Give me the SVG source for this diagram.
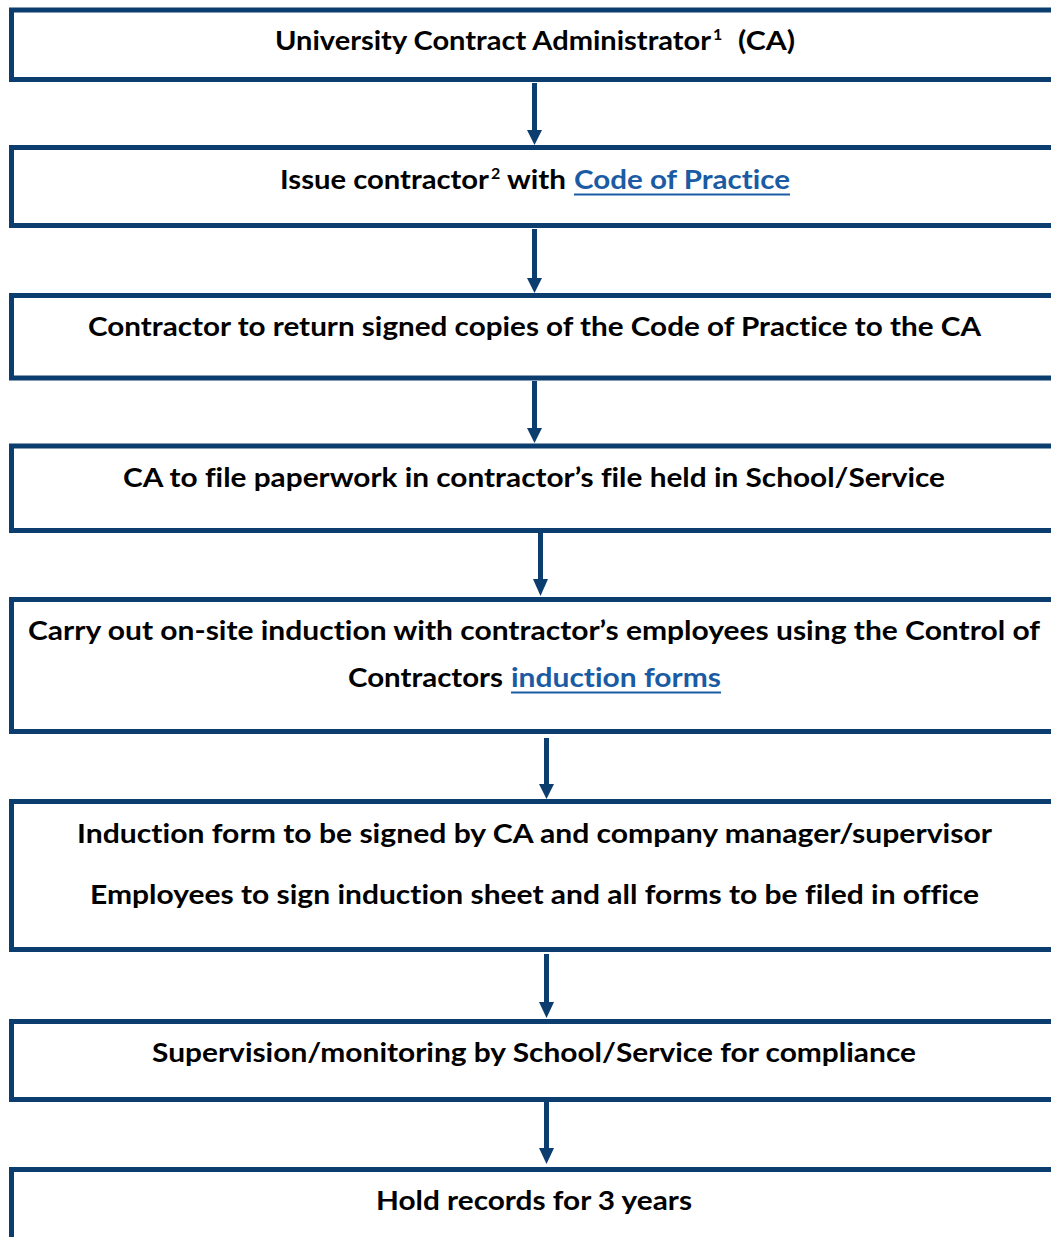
<svg xmlns="http://www.w3.org/2000/svg" width="1051" height="1237" viewBox="0 0 1051 1237">
<style>
.box{fill:#ffffff;stroke:#0b3d6f;stroke-width:5}
.t{font-family:Lato,"Open Sans","Liberation Sans",sans-serif;font-weight:700;font-size:27px;fill:#000000;font-variant-ligatures:none}
.sup{font-family:Lato,"Open Sans","Liberation Sans",sans-serif;font-weight:700;font-size:16px;fill:#000000}
.link{fill:#1a5ba3}
.ul{stroke:#1a5ba3;stroke-width:2}
.shaft{stroke:#0b3d6f;stroke-width:5}
.head{fill:#0b3d6f}
</style>
<rect width="1051" height="1237" fill="#ffffff"/>
<g id="connectors">
<line class="shaft" x1="534.5" y1="83" x2="534.5" y2="132"/><polygon class="head" points="527,130 542,130 534.5,145"/>
<line class="shaft" x1="534.5" y1="229" x2="534.5" y2="280"/><polygon class="head" points="527,278 542,278 534.5,293"/>
<line class="shaft" x1="534.5" y1="381" x2="534.5" y2="430"/><polygon class="head" points="527,428 542,428 534.5,443"/>
<line class="shaft" x1="540.5" y1="533" x2="540.5" y2="581"/><polygon class="head" points="533,579 548,579 540.5,596"/>
<line class="shaft" x1="546.5" y1="738" x2="546.5" y2="786"/><polygon class="head" points="539,784 554,784 546.5,799"/>
<line class="shaft" x1="546.5" y1="954" x2="546.5" y2="1004"/><polygon class="head" points="539,1002 554,1002 546.5,1018"/>
<line class="shaft" x1="546.5" y1="1102" x2="546.5" y2="1150"/><polygon class="head" points="539,1148 554,1148 546.5,1164"/>
</g>
<g id="n1">
<rect class="box" x="11.5" y="10" width="1060" height="69.5"/>
<text class="t" x="275" y="50" textLength="436" lengthAdjust="spacingAndGlyphs">University Contract Administrator</text>
<text class="sup" x="713" y="40">1</text>
<text class="t" x="738" y="50" textLength="57" lengthAdjust="spacingAndGlyphs">(CA)</text>
</g>
<g id="n2">
<rect class="box" x="11.5" y="147.5" width="1060" height="78"/>
<text class="t" x="280" y="189" textLength="209" lengthAdjust="spacingAndGlyphs">Issue contractor</text>
<text class="sup" x="491" y="179">2</text>
<text class="t" x="507" y="189" textLength="59" lengthAdjust="spacingAndGlyphs">with</text>
<text class="t link" x="574" y="189" textLength="216" lengthAdjust="spacingAndGlyphs">Code of Practice</text>
<line class="ul" x1="574" y1="194.5" x2="790" y2="194.5"/>
</g>
<g id="n3">
<rect class="box" x="11.5" y="295.5" width="1060" height="82.5"/>
<text class="t" x="88" y="336" textLength="893" lengthAdjust="spacingAndGlyphs">Contractor to return signed copies of the Code of Practice to the CA</text>
</g>
<g id="n4">
<rect class="box" x="11.5" y="446" width="1060" height="84.5"/>
<text class="t" x="123" y="487" textLength="822" lengthAdjust="spacingAndGlyphs">CA to file paperwork in contractor’s file held in School/Service</text>
</g>
<g id="n5">
<rect class="box" x="11.5" y="599.5" width="1060" height="132"/>
<text class="t" x="28" y="640" textLength="1012" lengthAdjust="spacingAndGlyphs">Carry out on-site induction with contractor’s employees using the Control of</text>
<text class="t" x="348" y="687" textLength="155" lengthAdjust="spacingAndGlyphs">Contractors</text>
<text class="t link" x="511" y="687" textLength="210" lengthAdjust="spacingAndGlyphs">induction forms</text>
<line class="ul" x1="511" y1="692.5" x2="721" y2="692.5"/>
</g>
<g id="n6">
<rect class="box" x="11.5" y="801.5" width="1060" height="148"/>
<text class="t" x="77" y="843" textLength="915" lengthAdjust="spacingAndGlyphs">Induction form to be signed by CA and company manager/supervisor</text>
<text class="t" x="90" y="904" textLength="889" lengthAdjust="spacingAndGlyphs">Employees to sign induction sheet and all forms to be filed in office</text>
</g>
<g id="n7">
<rect class="box" x="11.5" y="1021.5" width="1060" height="78"/>
<text class="t" x="152" y="1062" textLength="764" lengthAdjust="spacingAndGlyphs">Supervision/monitoring by School/Service for compliance</text>
</g>
<g id="n8">
<rect class="box" x="11.5" y="1169.5" width="1060" height="130"/>
<text class="t" x="376" y="1210" textLength="316" lengthAdjust="spacingAndGlyphs">Hold records for 3 years</text>
</g>
</svg>
